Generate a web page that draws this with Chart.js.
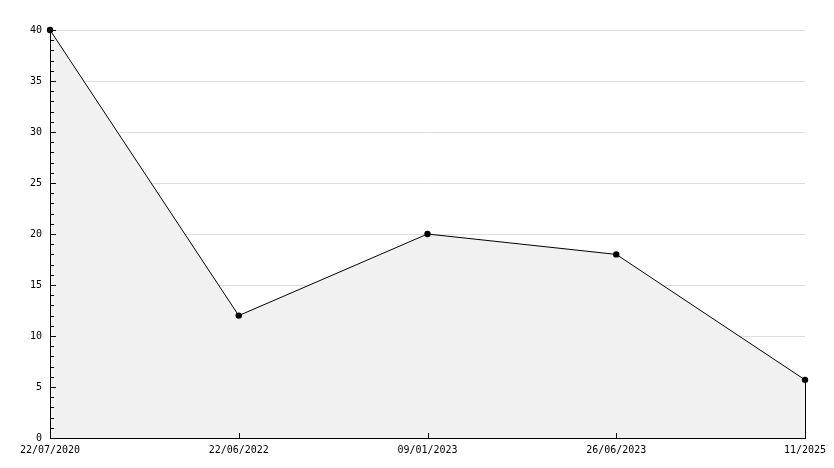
<!DOCTYPE html>
<html>
<head>
<meta charset="utf-8">
<script src="https://cdn.jsdelivr.net/npm/chart.js@4/dist/chart.umd.min.js"></script>
<style>
  html, body { margin: 0; padding: 0; background: #fff; }
  #wrap { width: 834px; height: 468px; }
</style>
</head>
<body>
<div id="wrap"><canvas id="lineChart"></canvas></div>
<script>
// data
const dateLabels = ["22/07/2020", "22/06/2022", "09/01/2023", "26/06/2023", "11/2025"];
const seriesValues = [40, 12, 20, 18, 5.7];
const yMin = 0;
const yMax = 40;
const yStep = 5;
const yMinorStep = 1;

// axis lines, inward tick marks and the closing edge of the area
const axisPlugin = {
  id: "axisPlugin",
  afterDatasetsDraw(chart) {
    const ctx = chart.ctx;
    const area = chart.chartArea;
    const xs = chart.scales.x;
    const ys = chart.scales.y;
    ctx.save();
    ctx.strokeStyle = "#000";
    ctx.lineWidth = 1;
    ctx.beginPath();
    // y axis
    ctx.moveTo(Math.round(area.left) + 0.5, area.top);
    ctx.lineTo(Math.round(area.left) + 0.5, Math.round(area.bottom) + 0.5);
    // x axis
    ctx.moveTo(area.left, Math.round(area.bottom) + 0.5);
    ctx.lineTo(area.right + 1, Math.round(area.bottom) + 0.5);
    // y ticks (major + minor)
    for (let v = yMin; v <= yMax; v += yMinorStep) {
      const py = Math.round(ys.getPixelForValue(v)) + 0.5;
      const len = v % yStep === 0 ? 5 : 3;
      ctx.moveTo(area.left, py);
      ctx.lineTo(area.left + len + 1, py);
    }
    // x ticks
    dateLabels.forEach((lab, i) => {
      const px = Math.round(xs.getPixelForValue(i)) + 0.5;
      ctx.moveTo(px, area.bottom);
      ctx.lineTo(px, area.bottom - 5);
    });
    // right edge of the filled area
    const meta = chart.getDatasetMeta(0);
    const last = meta.data[meta.data.length - 1];
    const ex = Math.round(last.x) + 0.5;
    ctx.moveTo(ex, last.y);
    ctx.lineTo(ex, ys.getPixelForValue(0));
    ctx.stroke();
    // redraw points on top
    ctx.fillStyle = "#000";
    meta.data.forEach(p => {
      ctx.beginPath();
      ctx.arc(p.x, p.y, 3.2, 0, Math.PI * 2);
      ctx.fill();
    });
    ctx.restore();
  }
};

const ctx = document.getElementById("lineChart").getContext("2d");
new Chart(ctx, {
  type: "line",
  data: {
    labels: dateLabels,
    datasets: [
      {
        data: seriesValues,
        borderColor: "#000",
        borderWidth: 1,
        backgroundColor: "#f1f1f1",
        fill: "origin",
        tension: 0,
        pointRadius: 0,
        clip: false,
      },
    ],
  },
  options: {
    responsive: true,
    maintainAspectRatio: false,
    animation: false,
    devicePixelRatio: 1,
    layout: { padding: { top: 30, right: 29, left: 0, bottom: 0 } },
    plugins: { legend: { display: false }, tooltip: { enabled: false } },
    scales: {
      x: {
        type: "category",
        offset: false,
        grid: { display: false, drawTicks: false },
        border: { display: false },
        ticks: {
          color: "#000",
          font: { family: "DejaVu Sans Mono", size: 10 },
          maxRotation: 0,
          autoSkip: false,
          padding: 6,
        },
        afterFit: s => { s.height = 30; },
      },
      y: {
        min: yMin,
        max: yMax,
        grid: { color: "#dedede", drawTicks: false },
        border: { display: false },
        ticks: {
          stepSize: yStep,
          color: "#000",
          font: { family: "DejaVu Sans Mono", size: 10 },
          padding: 8,
        },
        afterFit: s => { s.width = 50; },
      },
    },
  },
  plugins: [axisPlugin],
});
</script>
</body>
</html>
